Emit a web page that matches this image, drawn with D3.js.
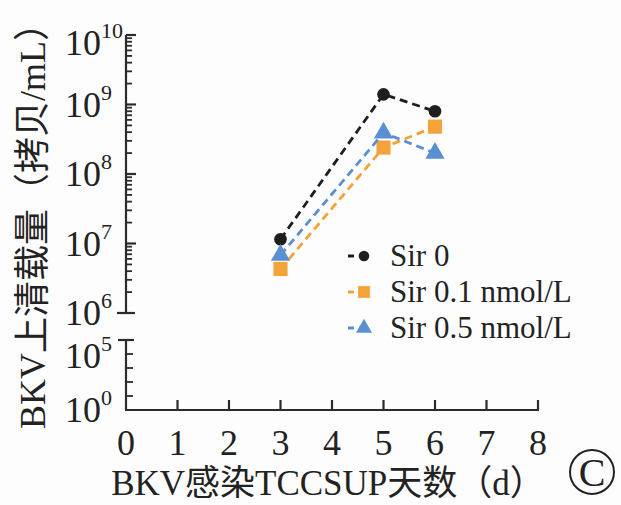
<!DOCTYPE html>
<html>
	<head>
		<meta charset="utf-8">
		<script src="https://d3js.org/d3.v7.min.js"></script>
		<style>
			body {
				margin: 0;
				background-color: #fdfdfd;
			}

			svg {
				display: block;
				font-family: "Liberation Serif", "Noto Sans CJK SC", serif;
			}
		</style>
	</head>
	<body>
		<svg id="chart" width="621" height="505"></svg>
		<script>
			// values
			var days = [3, 5, 6]
			var seriesNames = ["Sir 0", "Sir 0.1 nmol/L", "Sir 0.5 nmol/L"]
			var sir0 = [1.15e7, 1.4e9, 8.0e8]
			var sir01 = [4.3e6, 2.4e8, 4.8e8]
			var sir05 = [6.8e6, 3.9e8, 2.0e8]
			var xTicks = [0, 1, 2, 3, 4, 5, 6, 7, 8]
			var upperTicks = [6, 7, 8, 9, 10]
			var lowerTicks = [0, 5]
			var lowerMinor = [1e1, 1e2, 1e3, 1e4]
			var xTitle = "BKV感染TCCSUP天数（d）"
			var yTitle = "BKV上清载量（拷贝/mL）"

			var svg = d3.select("#chart")
			var axisColor = "#2b2b2b"
			var colors = ["#1e1e1e", "#f4a23a", "#5b8fd3"]
			var symbols = [d3.symbolCircle, d3.symbolSquare, d3.symbolTriangle]
			var symbolSizes = [125, 200, 160]
			var values = [sir0, sir01, sir05]

			var x = d3.scaleLinear().domain([0, 8]).range([126, 538])
			var yUp = d3.scaleLog().domain([1e6, 1e10]).range([313, 35])
			var yLow = d3.scaleLog().domain([1, 1e5]).range([410, 340])

			var axis = svg.append("g")
				.attr("stroke", axisColor)
				.attr("stroke-width", 2.2)
				.attr("fill", "none")

			// y axis, two pieces with a break between 10^5 and 10^6
			axis.append("line")
				.attr("x1", x(0)).attr("x2", x(0))
				.attr("y1", yUp(1e10)).attr("y2", yUp(1e6))
			axis.append("line")
				.attr("x1", x(0)).attr("x2", x(0))
				.attr("y1", yLow(1e5)).attr("y2", yLow(1))

			// break caps
			axis.append("line")
				.attr("x1", x(0) - 9).attr("x2", x(0) + 9)
				.attr("y1", yUp(1e6)).attr("y2", yUp(1e6))
			axis.append("line")
				.attr("x1", x(0) - 8).attr("x2", x(0) + 8)
				.attr("y1", yLow(1e5)).attr("y2", yLow(1e5))

			// x axis
			axis.append("line")
				.attr("x1", x(0) - 1).attr("x2", x(8) + 1)
				.attr("y1", yLow(1)).attr("y2", yLow(1))

			axis.selectAll(".xtick")
				.data(xTicks.filter(d => d > 0))
				.enter()
				.append("line")
				.attr("x1", d => x(d)).attr("x2", d => x(d))
				.attr("y1", yLow(1)).attr("y2", yLow(1) - 10)

			// upper major + minor ticks
			axis.selectAll(".umajor")
				.data(upperTicks.filter(d => d > 6))
				.enter()
				.append("line")
				.attr("x1", x(0)).attr("x2", x(0) + 10)
				.attr("y1", d => yUp(Math.pow(10, d))).attr("y2", d => yUp(Math.pow(10, d)))

			var minor = []
			for(var e = 6; e < 10; e++) {
				for(var m = 2; m <= 9; m++) minor.push(m * Math.pow(10, e))
			}

			axis.selectAll(".uminor")
				.data(minor)
				.enter()
				.append("line")
				.attr("stroke-width", 1.8)
				.attr("x1", x(0)).attr("x2", x(0) + 6)
				.attr("y1", d => yUp(d)).attr("y2", d => yUp(d))

			axis.selectAll(".lminor")
				.data(lowerMinor)
				.enter()
				.append("line")
				.attr("stroke-width", 1.8)
				.attr("x1", x(0)).attr("x2", x(0) + 7)
				.attr("y1", d => yLow(d)).attr("y2", d => yLow(d))

			// tick labels
			svg.selectAll(".xlabel")
				.data(xTicks)
				.enter()
				.append("text")
				.attr("x", d => x(d))
				.attr("y", 455)
				.attr("text-anchor", "middle")
				.attr("font-size", 36)
				.attr("fill", "#222")
				.text(d => d)

			function yLabel(exp, yPos, shift) {
				var t = svg.append("text")
					.attr("x", 65)
					.attr("y", yPos + 12 + shift)
					.attr("font-size", 36)
					.attr("fill", "#222")
				t.append("tspan").text("10")
				t.append("tspan")
					.attr("font-size", 22)
					.attr("dy", -17)
					.text(exp)
			}

			upperTicks.forEach(d => yLabel(d, yUp(Math.pow(10, d)), d == 10 ? 8 : 0))
			lowerTicks.forEach(d => yLabel(d, yLow(Math.pow(10, d)), d == 5 ? 16 : 0))

			// axis titles
			svg.append("text")
				.attr("x", 328)
				.attr("y", 495)
				.attr("text-anchor", "middle")
				.attr("font-size", 35)
				.attr("fill", "#222")
				.text(xTitle)

			svg.append("text")
				.attr("transform", "translate(45,217) rotate(-90)")
				.attr("text-anchor", "middle")
				.attr("font-size", 36)
				.attr("fill", "#222")
				.text(yTitle)

			// panel mark: circled C
			svg.append("circle")
				.attr("cx", 592)
				.attr("cy", 472)
				.attr("r", 22)
				.attr("fill", "none")
				.attr("stroke", "#222")
				.attr("stroke-width", 2)
			svg.append("text")
				.attr("x", 592)
				.attr("y", 486)
				.attr("text-anchor", "middle")
				.attr("font-size", 40)
				.attr("fill", "#222")
				.text("C")

			// series
			var line = d3.line()
				.x((d, i) => x(days[i]))
				.y(d => yUp(d))

			values.forEach((vals, k) => {
				var g = svg.append("g")
				g.append("path")
					.datum(vals)
					.attr("d", line)
					.attr("fill", "none")
					.attr("stroke", colors[k])
					.attr("stroke-width", 2.8)
					.attr("stroke-dasharray", "8,5")

				g.selectAll("path.pt")
					.data(vals)
					.enter()
					.append("path")
					.attr("class", "pt")
					.attr("transform", (d, i) => "translate(" + x(days[i]) + "," + yUp(d) + ")")
					.attr("d", d3.symbol().type(symbols[k]).size(symbolSizes[k]))
					.attr("fill", colors[k])
			})

			// legend
			var legend = svg.append("g")

			seriesNames.forEach((name, k) => {
				var base = 266 + k * 36
				var row = legend.append("g")

				row.append("line")
					.attr("x1", 348).attr("x2", 381)
					.attr("y1", base - 10).attr("y2", base - 10)
					.attr("stroke", colors[k])
					.attr("stroke-width", 2.8)
					.attr("stroke-dasharray", "6,5,2,4,2,20")

				row.append("path")
					.attr("transform", "translate(364," + (base - 10) + ")")
					.attr("d", d3.symbol().type(symbols[k]).size(symbolSizes[k] * 0.7))
					.attr("fill", colors[k])

				row.append("text")
					.attr("x", 390)
					.attr("y", base)
					.attr("font-size", 31)
					.attr("fill", "#222")
					.text(name)
			})
		</script>
	</body>
</html>
